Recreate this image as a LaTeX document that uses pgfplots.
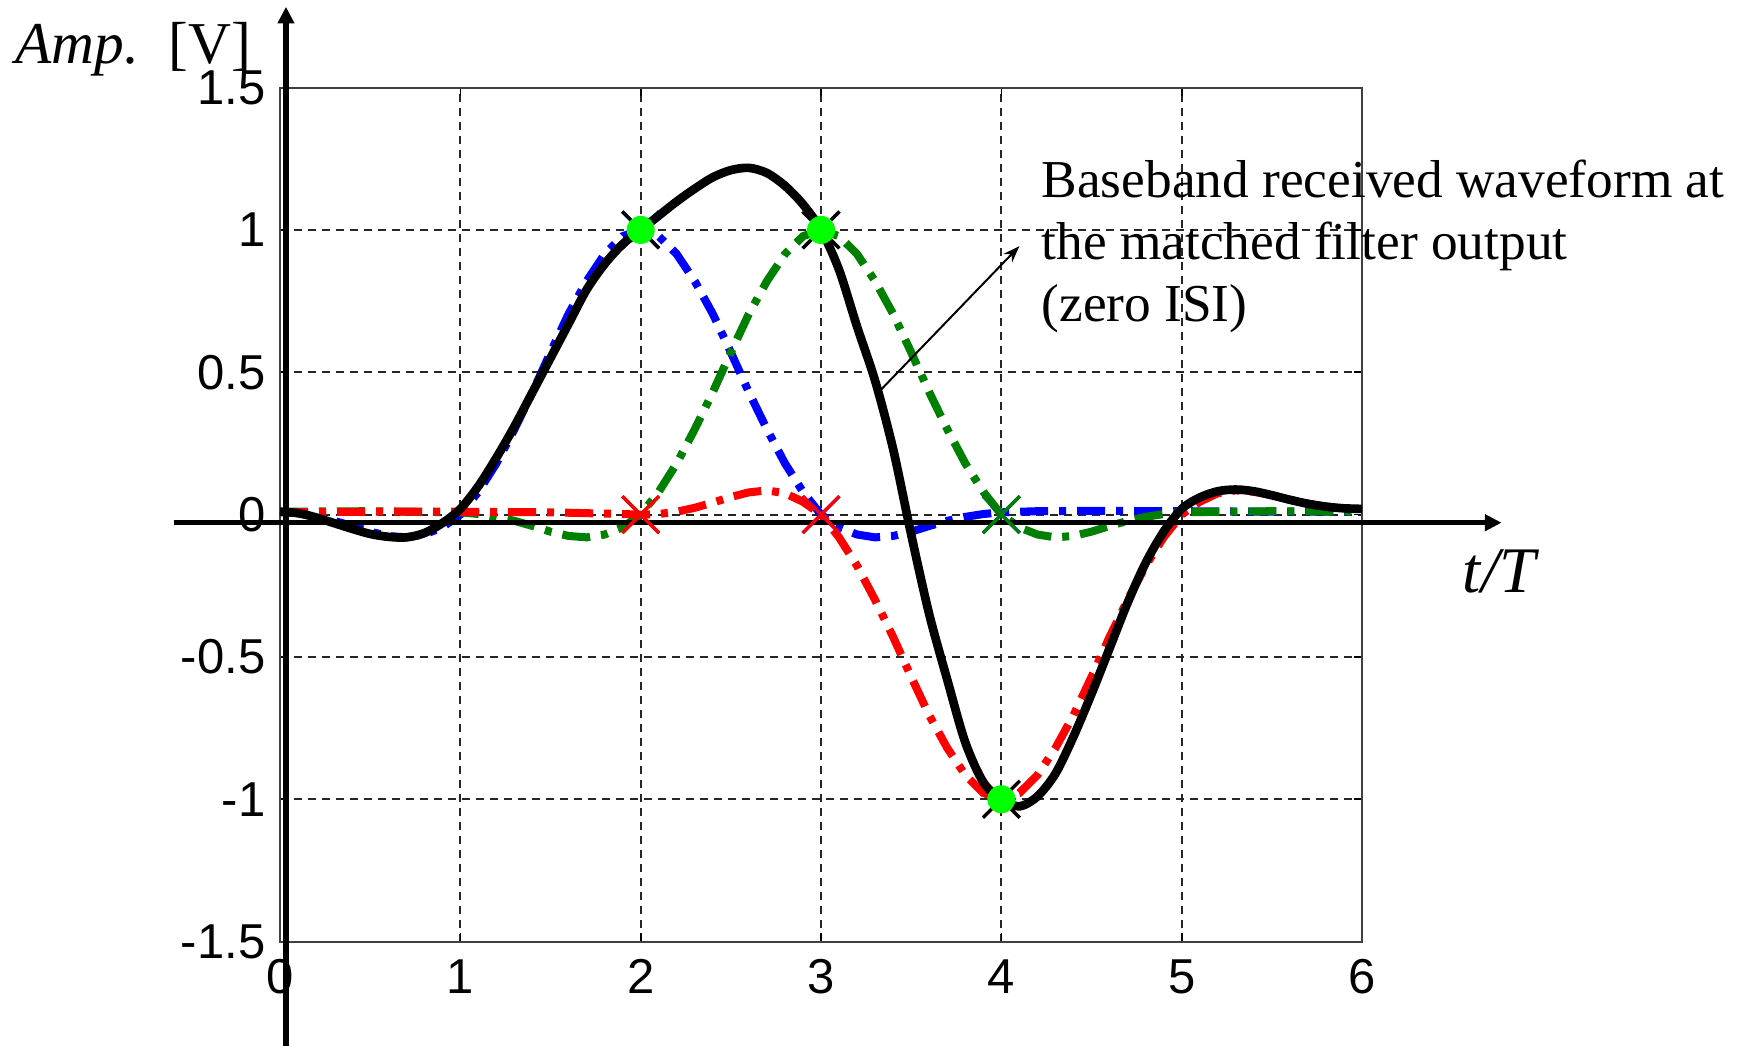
\documentclass[border=0pt]{standalone}
\usepackage{fontspec}
\setmainfont{Liberation Serif}
\setsansfont{Liberation Sans}
\usepackage{pgfplots}
\pgfplotsset{compat=1.18}
\usetikzlibrary{arrows.meta}

\definecolor{mgreen}{RGB}{0,128,0}
\definecolor{dotgreen}{RGB}{0,255,0}
\tikzset{dashdot/.style={dash pattern=on 8.4pt off 3.3pt on 2.1pt off 3.3pt}}

\begin{document}
\begin{tikzpicture}
\begin{axis}[
  scale only axis, width=324.6pt, height=256.2pt,
  xmin=0, xmax=6, ymin=-1.5, ymax=1.5,
  xtick={0,...,6}, xticklabels={0,1,2,3,4,5,6},
  ytick={-1.5,-1,-0.5,0,0.5,1,1.5},
  yticklabels={-1.5,-1,-0.5,0,0.5,1,1.5},
  tick label style={font=\sffamily\fontsize{14.7}{15}\selectfont, inner sep=0pt},
  xticklabel style={yshift=-5.2pt},
  yticklabel style={xshift=-4.2pt},
  tick align=inside, major tick length=2.5pt,
  tick style={black, line width=0.5pt},
  grid=major,
  major grid style={black!85, line width=0.6pt, dash pattern=on 2.4pt off 1.8pt},
  axis line style={black!75, line width=0.6pt},
  clip=false,
]
\coordinate (bbll) at (rel axis cs:-0.2588,-0.1211);
\coordinate (bbur) at (rel axis cs:1.3466,1.1026);

% pulse at t=2
\addplot[blue, line width=2.4pt, dashdot] coordinates {
(0,0.010)(0.1,0.005)(0.2,-0.008)(0.3,-0.022)(0.4,-0.040)(0.5,-0.060)(0.6,-0.075)(0.7,-0.080)(0.8,-0.070)(0.9,-0.045)
(1,0)(1.1,0.080)(1.2,0.180)(1.3,0.300)(1.4,0.430)(1.5,0.570)(1.6,0.705)(1.7,0.820)(1.8,0.915)(1.9,0.978)
(2,1)(2.1,0.978)(2.2,0.915)(2.3,0.820)(2.4,0.705)(2.5,0.570)(2.6,0.430)(2.7,0.300)(2.8,0.180)(2.9,0.080)
(3,0)(3.1,-0.045)(3.2,-0.070)(3.3,-0.080)(3.4,-0.075)(3.5,-0.060)(3.6,-0.040)(3.7,-0.022)(3.8,-0.008)(3.9,0.002)
(4,0.008)(4.2,0.012)(4.5,0.013)(5,0.012)(5.5,0.010)(6,0.010)};
\addplot[only marks, mark=x, mark size=7.8pt, blue, mark options={line width=1pt}]
  coordinates {(2,1)(3,0)(4,0)};

% pulse at t=3
\addplot[mgreen, line width=2.4pt, dashdot] coordinates {
(0,0.010)(0.5,0.012)(1,0.008)(1.1,0.002)(1.2,-0.008)(1.3,-0.022)(1.4,-0.040)(1.5,-0.060)(1.6,-0.075)(1.7,-0.080)(1.8,-0.070)(1.9,-0.045)
(2,0)(2.1,0.080)(2.2,0.180)(2.3,0.300)(2.4,0.430)(2.5,0.570)(2.6,0.705)(2.7,0.820)(2.8,0.915)(2.9,0.978)
(3,1)(3.1,0.978)(3.2,0.915)(3.3,0.820)(3.4,0.705)(3.5,0.570)(3.6,0.430)(3.7,0.300)(3.8,0.180)(3.9,0.080)
(4,0)(4.1,-0.045)(4.2,-0.070)(4.3,-0.080)(4.4,-0.075)(4.5,-0.060)(4.6,-0.040)(4.7,-0.022)(4.8,-0.008)(4.9,0.002)
(5,0.008)(5.5,0.012)(6,0.010)};
\addplot[only marks, mark=x, mark size=7.8pt, mgreen, mark options={line width=1pt}]
  coordinates {(2,0)(3,1)(4,0)};

% pulse at t=4 (negative)
\addplot[red, line width=2.4pt, dashdot] coordinates {
(0,0.008)(0.5,0.010)(1,0.010)(1.5,0.008)(1.9,0.002)
(2,0)(2.1,0.002)(2.2,0.010)(2.3,0.024)(2.4,0.042)(2.5,0.062)(2.6,0.078)(2.7,0.085)(2.8,0.075)(2.9,0.045)
(3,0)(3.1,-0.080)(3.2,-0.180)(3.3,-0.300)(3.4,-0.430)(3.5,-0.570)(3.6,-0.705)(3.7,-0.820)(3.8,-0.915)(3.9,-0.978)
(4,-1)(4.1,-0.978)(4.2,-0.915)(4.3,-0.820)(4.4,-0.705)(4.5,-0.570)(4.6,-0.430)(4.7,-0.300)(4.8,-0.180)(4.9,-0.080)
(5,0)(5.1,0.045)(5.2,0.075)(5.3,0.085)(5.4,0.080)(5.5,0.068)(5.6,0.052)(5.7,0.038)(5.8,0.028)(5.9,0.022)(6,0.020)};
\addplot[only marks, mark=x, mark size=7.8pt, red, mark options={line width=1pt}]
  coordinates {(2,0)(3,0)(4,-1)};

% received waveform
\addplot[black, line width=2.6pt, smooth, line join=round] coordinates {
(0,0.010)(0.1,0.005)(0.2,-0.010)(0.3,-0.030)(0.4,-0.050)(0.5,-0.068)(0.6,-0.078)(0.7,-0.080)(0.8,-0.065)(0.9,-0.030)
(1,0.020)(1.1,0.100)(1.2,0.200)(1.3,0.310)(1.4,0.430)(1.5,0.550)(1.6,0.670)(1.7,0.790)(1.8,0.880)(1.9,0.950)
(2,1.000)(2.1,1.050)(2.2,1.100)(2.3,1.145)(2.4,1.185)(2.5,1.210)(2.6,1.218)(2.7,1.200)(2.8,1.155)(2.9,1.090)
(3,1.000)(3.1,0.860)(3.2,0.660)(3.3,0.470)(3.4,0.230)(3.5,-0.070)(3.6,-0.350)(3.7,-0.580)(3.8,-0.800)(3.9,-0.940)
(4,-1.000)(4.1,-1.025)(4.2,-0.990)(4.3,-0.910)(4.4,-0.780)(4.5,-0.630)(4.6,-0.470)(4.7,-0.310)(4.8,-0.170)(4.9,-0.060)
(5,0.020)(5.1,0.060)(5.2,0.082)(5.3,0.088)(5.4,0.082)(5.5,0.068)(5.6,0.052)(5.7,0.038)(5.8,0.028)(5.9,0.022)(6,0.020)};
\addplot[only marks, mark=x, mark size=7.8pt, black, mark options={line width=1pt}]
  coordinates {(2,1)(3,1)(4,-1)};

% axes arrows
\draw[line width=1.6pt, -{Triangle[length=5pt,width=4.8pt]}]
  (axis cs:-0.59,-0.0285) -- (axis cs:6.774,-0.0285);
\draw[line width=1.8pt, -{Triangle[length=5pt,width=4.8pt]}]
  (axis cs:0.033,-1.90) -- (axis cs:0.033,1.784);

% sample points
\addplot[only marks, mark=*, mark size=4pt, draw=dotgreen, fill=dotgreen]
  coordinates {(2,1)(3,1)(4,-1)};

% annotation
\draw[line width=0.6pt, -{Stealth[length=5pt,width=3.6pt]}]
  (axis cs:3.33,0.437) -- (axis cs:4.10,0.943);
\node[anchor=base west, inner sep=0pt, font=\fontsize{16}{18.6}\selectfont]
  at (axis cs:4.22,1.115) {Baseband received waveform at};
\node[anchor=base west, inner sep=0pt, font=\fontsize{16}{18.6}\selectfont]
  at (axis cs:4.22,0.897) {the matched filter output};
\node[anchor=base west, inner sep=0pt, font=\fontsize{16}{18.6}\selectfont]
  at (axis cs:4.22,0.679) {(zero ISI)};

\node[anchor=base west, inner sep=0pt, font=\fontsize{17.8}{20}\selectfont]
  at (axis cs:-1.47,1.586) {\textit{Amp.}\, [V]};
\node[anchor=base west, inner sep=0pt, font=\fontsize{19.5}{22}\selectfont]
  at (axis cs:6.556,-0.275) {\textit{t/T}};
\end{axis}
\pgfresetboundingbox
\useasboundingbox (bbll) rectangle (bbur);
\end{tikzpicture}
\end{document}
